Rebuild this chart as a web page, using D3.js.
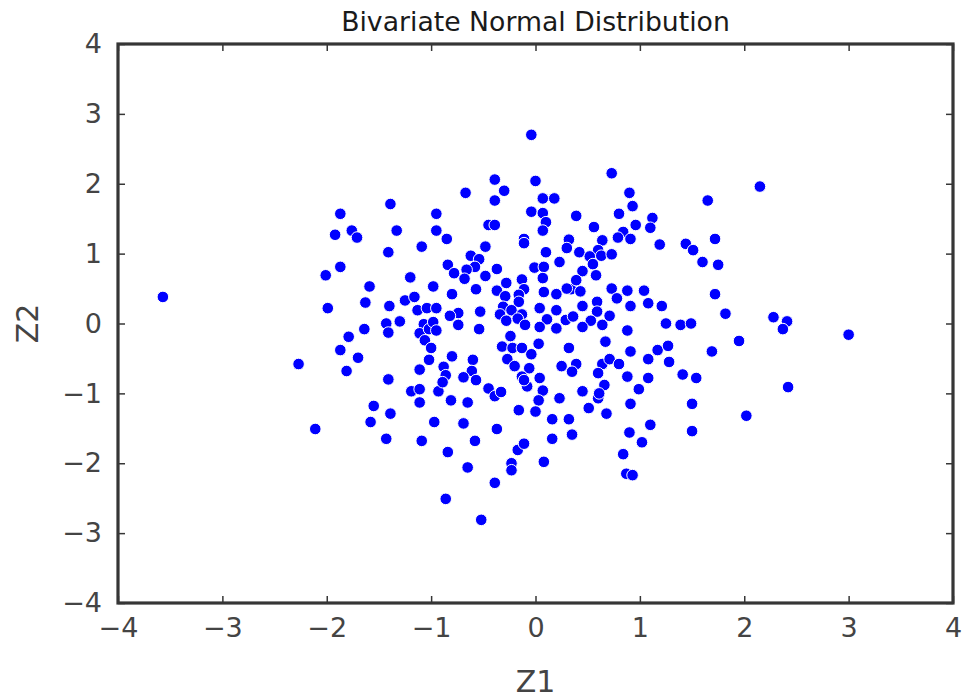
<!DOCTYPE html>
<html>
<head>
<meta charset="utf-8">
<script src="https://cdn.jsdelivr.net/npm/d3@7/dist/d3.min.js"></script>
<style>
  body { margin: 0; background: #ffffff; }
  text { font-family: "DejaVu Sans", sans-serif; }
</style>
</head>
<body>
<svg id="chart" width="969" height="700"></svg>
<script>
// Samples from a standard bivariate normal: Z1 (horizontal) and Z2 (vertical)
const z1 = [
  -1.87, -1.39, -0.95, -1.92, -1.76, -1.71, -1.33, -0.95, -1.41, -1.09,
  -1.87, -0.39,  0.00, -0.67, -0.30, -0.39,  0.07,  0.18, -0.04,  0.07,
   0.10,  0.39, -0.85, -0.45, -0.39,  0.07, -0.11, -0.11, -0.48,  0.32,
   0.30,  0.42,  0.10,  0.23, -0.62, -0.54, -0.84, -0.58, -0.37, -0.01,
   0.08, -0.78, -0.66, -0.04,  0.73,  0.90,  1.65,  0.93,  0.80,  1.12,
   0.56,  0.96,  1.10,  0.84,  0.79,  0.91,  0.64,  1.19,  1.44,  1.51,
   1.72,  0.60,  0.52,  0.63,  0.73,  0.55,  1.60,  1.75,  0.45, -2.01,
  -1.20, -1.59, -0.98, -1.63, -1.99, -1.40, -1.25, -1.16, -1.13, -1.04,
  -0.95, -1.43, -1.30, -1.41, -1.64, -1.79, -1.07, -1.11, -1.02, -0.98,
  -0.95, -1.06, -1.00, -1.87, -1.70, -2.27, -1.02, -1.81, -1.11, -1.41,
  -0.68, -0.48, -0.57, -0.28, -0.13,  0.07, -0.37, -0.11,  0.08,  0.20,
   0.34,  0.39,  0.30, -0.80, -0.29, -0.16, -0.16, -0.74, -0.82, -0.53,
  -0.31, -0.23, -0.13,  0.04,  0.20,  0.11,  0.29,  0.36, -0.34, -0.28,
  -0.17, -0.10,  0.04,  0.20, -0.74, -0.54, -0.24, -0.32, -0.22, -0.13,
  -0.04,  0.03, -0.27, -0.80, -0.60, -0.88, -0.61, -0.20, -0.06,  0.32,
   0.25,  0.39, -0.86, -0.69, -0.57,  0.04, -0.13,  0.58,  0.43,  0.73,
   0.88,  1.04,  0.78,  0.91,  1.08,  1.21,  0.45,  0.59,  0.59,  0.71,
   0.53,  0.64,  0.45,  0.88,  1.25,  1.39,  1.49,  1.72,  0.67,  0.91,
   1.17,  1.27,  1.69,  0.64,  0.71,  0.80,  1.08,  1.28,  0.35,  0.60,
   0.88,  1.08,  1.41,  1.54, -1.19, -1.11, -0.93, -1.11, -1.55, -1.39,
  -1.58, -0.97, -2.11, -1.43, -1.09, -0.89, -0.81, -0.65, -0.45, -0.39,
  -0.33, -0.08, -0.11,  0.07,  0.03,  0.23, -0.16,  0.00,  0.16,  0.32,
  -0.69, -0.37, -0.58,  0.16,  0.35, -0.84, -0.17, -0.11, -0.23, -0.23,
   0.08, -0.65, -0.39,  0.66,  0.45,  0.60,  0.99,  0.51,  0.68,  0.91,
   1.50,  1.10,  0.90,  1.02,  1.50,  0.84,  0.87,  0.93,  0.61, -3.57,
   2.15,  1.82,  2.28,  2.41,  2.37,  3.00,  1.95,  2.42,  2.02, -0.86,
  -0.52
];
const z2 = [
   1.57,  1.71,  1.57,  1.27,  1.33,  1.23,  1.33,  1.33,  1.02,  1.10,
   0.81,  2.06,  2.04,  1.87,  1.90,  1.76,  1.79,  1.79,  1.60,  1.58,
   1.45,  1.54,  1.21,  1.41,  1.41,  1.33,  1.21,  1.15,  1.10,  1.20,
   1.08,  1.02,  1.02,  0.88,  0.97,  0.92,  0.84,  0.81,  0.78,  0.80,
   0.81,  0.72,  0.77,  2.70,  2.15,  1.87,  1.76,  1.68,  1.57,  1.51,
   1.38,  1.41,  1.37,  1.31,  1.23,  1.21,  1.19,  1.13,  1.14,  1.05,
   1.21,  1.05,  0.96,  0.97,  0.99,  0.85,  0.88,  0.84,  0.75,  0.69,
   0.66,  0.53,  0.53,  0.30,  0.22,  0.25,  0.33,  0.38,  0.19,  0.22,
   0.22,  0.00,  0.03, -0.13, -0.08, -0.19, -0.01, -0.14, -0.08,  0.02,
  -0.10, -0.24, -0.35, -0.38, -0.49, -0.58, -0.52, -0.68, -0.66, -0.80,
   0.64,  0.68,  0.49,  0.58,  0.63,  0.65,  0.47,  0.49,  0.45,  0.42,
   0.49,  0.62,  0.50,  0.42,  0.39,  0.41,  0.31,  0.15,  0.11,  0.17,
   0.24,  0.19,  0.13,  0.22,  0.19,  0.06,  0.05,  0.10,  0.13,  0.04,
   0.07, -0.02, -0.05, -0.07, -0.02, -0.08, -0.18, -0.33, -0.35, -0.35,
  -0.44, -0.29, -0.51, -0.47, -0.52, -0.62, -0.68, -0.61, -0.64, -0.35,
  -0.61, -0.58, -0.74, -0.77, -0.81, -0.78, -0.76,  0.69,  0.46,  0.50,
   0.47,  0.47,  0.36,  0.25,  0.29,  0.25,  0.25,  0.31,  0.17,  0.11,
   0.04, -0.02, -0.05, -0.10,  0.00, -0.02,  0.00,  0.42, -0.26, -0.40,
  -0.38, -0.32, -0.40, -0.58, -0.51, -0.58, -0.51, -0.55, -0.69, -0.71,
  -0.76, -0.78, -0.73, -0.78, -0.97, -0.94, -0.97, -1.13, -1.18, -1.29,
  -1.41, -1.41, -1.51, -1.65, -1.68, -0.84, -1.10, -1.13, -0.93, -1.04,
  -0.98, -0.90, -0.81, -0.96, -1.10, -1.07, -1.24, -1.26, -1.37, -1.37,
  -1.43, -1.51, -1.68, -1.65, -1.59, -1.84, -1.81, -1.72, -2.00, -2.10,
  -1.98, -2.06, -2.28, -0.88, -0.97, -1.07, -0.94, -1.21, -1.29, -1.15,
  -1.15, -1.45, -1.56, -1.70, -1.54, -1.87, -2.15, -2.17, -1.00,  0.38,
   1.96,  0.14,  0.09,  0.03, -0.08, -0.16, -0.25, -0.91, -1.32, -2.51,
  -2.81
];

// Axis ticks and text
const xTicks = [-4, -3, -2, -1, 0, 1, 2, 3, 4];
const yTicks = [-4, -3, -2, -1, 0, 1, 2, 3, 4];
const titleText = "Bivariate Normal Distribution";
const xLabel = "Z1";
const yLabel = "Z2";

const points = z1.map((v, i) => ({ x: v, y: z2[i] }));

const svg = d3.select("#chart");
const margin = { left: 118, right: 16, top: 44, bottom: 97 };
const W = 969, H = 700;
const innerW = W - margin.left - margin.right;
const innerH = H - margin.top - margin.bottom;

const x = d3.scaleLinear().domain([-4, 4]).range([0, innerW]);
const y = d3.scaleLinear().domain([-4, 4]).range([innerH, 0]);

const frameColor = "#363636";
const tickText = "#444444";

const g = svg.append("g").attr("transform", `translate(${margin.left},${margin.top})`);

// Points
g.append("g")
  .selectAll("circle")
  .data(points)
  .join("circle")
  .attr("cx", d => x(d.x))
  .attr("cy", d => y(d.y))
  .attr("r", 5.8)
  .attr("fill", "#0000ff")
  .attr("stroke", "#ffffff")
  .attr("stroke-width", 1);

// Axes with inward ticks
function styleAxis(sel) {
  sel.select(".domain").remove();
  sel.selectAll(".tick line").attr("stroke", frameColor).attr("stroke-width", 1.5);
  sel.selectAll(".tick text")
    .attr("fill", tickText)
    .style("font-size", "27px")
    .style("font-family", "'DejaVu Sans', sans-serif");
}

const fmt = d3.format("d");

g.append("g")
  .attr("transform", `translate(0,${innerH})`)
  .call(d3.axisBottom(x).tickValues(xTicks).tickFormat(fmt).tickSizeInner(-7).tickSizeOuter(0).tickPadding(15))
  .call(styleAxis);

g.append("g")
  .call(d3.axisTop(x).tickValues(xTicks).tickFormat("").tickSizeInner(-7).tickSizeOuter(0))
  .call(styleAxis);

g.append("g")
  .call(d3.axisLeft(y).tickValues(yTicks).tickFormat(fmt).tickSizeInner(-7).tickSizeOuter(0).tickPadding(16))
  .call(styleAxis);

g.append("g")
  .attr("transform", `translate(${innerW},0)`)
  .call(d3.axisRight(y).tickValues(yTicks).tickFormat("").tickSizeInner(-7).tickSizeOuter(0))
  .call(styleAxis);

// Frame
g.append("rect")
  .attr("x", 0).attr("y", 0)
  .attr("width", innerW).attr("height", innerH)
  .attr("fill", "none")
  .attr("stroke", frameColor)
  .attr("stroke-width", 3.2);

// Title and axis labels
svg.append("text")
  .attr("x", margin.left + innerW / 2)
  .attr("y", 31)
  .attr("text-anchor", "middle")
  .attr("fill", "#1a1a1a")
  .style("font-size", "26.7px")
  .text(titleText);

svg.append("text")
  .attr("x", margin.left + innerW / 2)
  .attr("y", 692)
  .attr("text-anchor", "middle")
  .attr("fill", "#444444")
  .style("font-size", "30px")
  .text(xLabel);

svg.append("text")
  .attr("transform", `translate(38,${margin.top + innerH / 2}) rotate(-90)`)
  .attr("text-anchor", "middle")
  .attr("fill", "#444444")
  .style("font-size", "30px")
  .text(yLabel);
</script>
</body>
</html>
